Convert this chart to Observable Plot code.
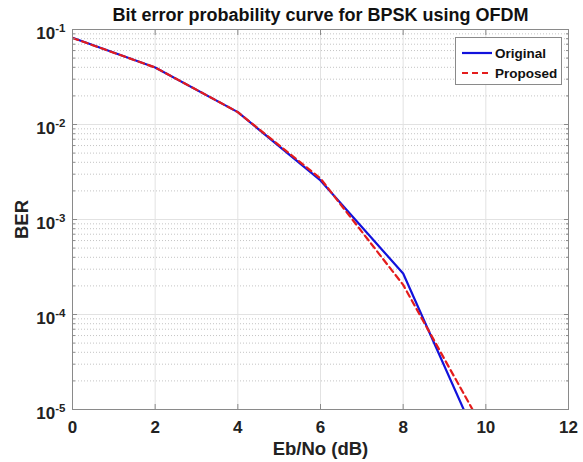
<!DOCTYPE html>
<html><head><meta charset="utf-8">
<script src="https://cdn.jsdelivr.net/npm/d3@7"></script>
<script src="https://cdn.jsdelivr.net/npm/@observablehq/plot@0.6"></script>
<style>
body{margin:0;background:#fff;font-family:"Liberation Sans",Arial,sans-serif;}
#wrap{position:relative;width:583px;height:462px;}
#legend{position:absolute;left:455px;top:37px;width:107px;height:48px;border:1px solid #8a8a8a;background:#fff;font-weight:bold;font-size:13.5px;color:#111;box-sizing:border-box;}
#legend .row{position:absolute;left:5px;height:18px;display:flex;align-items:center;}
#legend svg{margin-right:2px;}
</style></head><body>
<div id="wrap"></div>
<script>
const title = "Bit error probability curve for BPSK using OFDM";
const xLabel = "Eb/No (dB)";
const yLabel = "BER";
const ebno = [0, 2, 4, 6, 8, 10];
const berOriginal = [0.0817, 0.0398, 0.0135, 0.00258, 0.00027, 0.0000030];
const berProposed = [0.0815, 0.0398, 0.0135, 0.00270, 0.000205, 0.0000056];
const seriesNames = ["Original", "Proposed"];
const seriesColors = ["#1212dc", "#e41c1c"];
const xTicks = [0, 2, 4, 6, 8, 10, 12];
const yTicks = [1e-5, 1e-4, 1e-3, 1e-2, 1e-1];
const yExponents = ["-5", "-4", "-3", "-2", "-1"];

const yMinor = [];
for (let k = -5; k <= -2; k++) for (let m = 2; m <= 9; m++) yMinor.push(m * Math.pow(10, k));

const orig = ebno.map((x, i) => ({x, y: berOriginal[i]}));
const prop = ebno.map((x, i) => ({x, y: berProposed[i]}));

const tickStroke = "#8a8a8a";
const tickFont = 17;
const labelFont = 18.5;
const chart = Plot.plot({
  width: 583, height: 462,
  marginLeft: 72, marginRight: 15, marginTop: 29, marginBottom: 53,
  style: {fontFamily: '"Liberation Sans", Arial, sans-serif', fontSize: tickFont + "px", fontWeight: "bold", color: "#222"},
  x: {domain: [0, 12]},
  y: {type: "log", domain: [1e-5, 1e-1]},
  marks: [
    Plot.gridY(yMinor, {stroke: "#c4c4c4", strokeOpacity: 1, strokeDasharray: "1,2"}),
    Plot.gridY(yTicks, {stroke: "#e2e2e2", strokeOpacity: 1}),
    Plot.gridX(xTicks, {stroke: "#e2e2e2", strokeOpacity: 1}),
    Plot.line(orig, {x: "x", y: "y", stroke: seriesColors[0], strokeWidth: 2.2, clip: true}),
    Plot.line(prop, {x: "x", y: "y", stroke: seriesColors[1], strokeWidth: 2.2, strokeDasharray: "6,4", clip: true}),
    Plot.frame({stroke: tickStroke}),
    Plot.axisX(xTicks, {anchor: "bottom", tickSize: 0, tickPadding: 11, label: xLabel, labelAnchor: "center", labelArrow: "none", labelOffset: 45, fontSize: tickFont}),
    Plot.axisX(xTicks, {anchor: "bottom", tickSize: -5, label: null, stroke: tickStroke}),
    Plot.axisX(xTicks, {anchor: "top", tickSize: -5, label: null, stroke: tickStroke}),
    Plot.axisY(yTicks, {anchor: "left", tickSize: 0, tickPadding: 7, dy: 4, label: yLabel, labelAnchor: "center", labelArrow: "none", labelOffset: 58, fontSize: tickFont, tickFormat: () => "10"}),
    Plot.axisY(yTicks, {anchor: "left", tickSize: -5, label: null, stroke: tickStroke}),
    Plot.axisY(yTicks, {anchor: "right", tickSize: -5, label: null, stroke: tickStroke}),
    Plot.axisY(yMinor, {anchor: "left", tickSize: -3, label: null, stroke: tickStroke}),
    Plot.axisY(yMinor, {anchor: "right", tickSize: -3, label: null, stroke: tickStroke}),
    Plot.text([title], {text: d => d, frameAnchor: "top", lineAnchor: "middle", dy: -14.5, fontSize: 18, fontWeight: "bold", fill: "#111"})
  ]
});

// keep only the first (labelled) axis's tick labels
["x", "y"].forEach(k => {
  const groups = chart.querySelectorAll(`g[aria-label="${k}-axis tick label"]`);
  for (let i = 1; i < groups.length; i++) groups[i].remove();
});

const svg = d3.select(chart);
svg.selectAll('g[aria-label="x-axis tick label"] text, g[aria-label="y-axis tick label"] text').attr("fill", "#222");
svg.selectAll('g[aria-label="x-axis label"], g[aria-label="y-axis label"]').attr("font-size", labelFont + "px");
svg.selectAll('g[aria-label="x-axis label"] text, g[aria-label="y-axis label"] text').attr("font-size", labelFont + "px").attr("fill", "#222");

// superscript exponents on y tick labels
svg.selectAll('g[aria-label="y-axis tick label"] text').each(function(d, i) {
  const t = d3.select(this);
  t.text("");
  t.append("tspan").text("10");
  t.append("tspan").attr("dy", "-7").attr("font-size", "11.5px").text(yExponents[i]);
});

const wrap = document.getElementById("wrap");
wrap.appendChild(chart);

const legend = document.createElement("div");
legend.id = "legend";
seriesNames.forEach((name, i) => {
  const row = document.createElement("div");
  row.className = "row";
  row.style.top = (i === 0 ? 6 : 26) + "px";
  const dash = i === 0 ? "" : ' stroke-dasharray="6,4"';
  row.innerHTML = `<svg width="32" height="6"><line x1="1" y1="3" x2="31" y2="3" stroke="${seriesColors[i]}" stroke-width="2.2"${dash}/></svg><span>${name}</span>`;
  legend.appendChild(row);
});
wrap.appendChild(legend);
</script>
</body></html>
